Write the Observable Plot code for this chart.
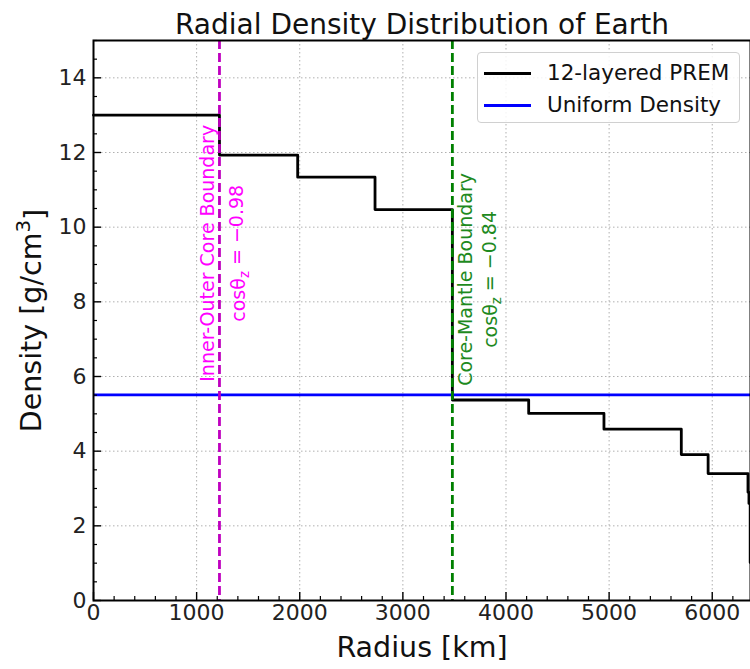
<!DOCTYPE html>
<html><head><meta charset="utf-8">
<script src="https://cdn.jsdelivr.net/npm/d3@7"></script>
<script src="https://cdn.jsdelivr.net/npm/@observablehq/plot@0.6"></script>
<style>
body{margin:0;background:#fff;font-family:"DejaVu Sans",sans-serif;}
#wrap{position:relative;width:750px;height:669px;overflow:hidden;}
.legend{position:absolute;left:477px;top:52px;width:263px;height:71px;box-sizing:border-box;border:1px solid #d0d0d0;border-radius:4px;background:rgba(255,255,255,0.85);}
.legend .row{position:absolute;left:0;height:30px;width:100%;}
.legend .sw{position:absolute;left:6px;top:14px;width:47px;height:3px;}
.legend .lb{position:absolute;left:69px;top:0;line-height:30px;font-size:21.5px;color:#111;white-space:nowrap;}
</style>
</head><body>
<div id="wrap"></div>
<script>
// ---- data ----
const layerInnerRadius = [0, 1221.5, 1980, 2730, 3480, 4220, 4950, 5700, 5960, 6346.6, 6356, 6368];
const layerDensity     = [13.0, 11.93, 11.34, 10.47, 5.37, 5.01, 4.59, 3.91, 3.40, 2.9, 2.6, 1.02];
const earthRadius = 6371;
const uniformDensity = [5.51];
const boundaryRadius = [1221.5, 3480];
const boundaryName = ["Inner-Outer Core Boundary", "Core-Mantle Boundary"];
const boundaryCos = ["cosθz = −0.98", "cosθz = −0.84"];
const boundaryLabelY = [9.3, 8.6];
const xMajor = [0, 1000, 2000, 3000, 4000, 5000, 6000];
const xMinor = d3.range(0, 6400, 200).filter(v => v % 1000 !== 0);
const yMajor = [0, 2, 4, 6, 8, 10, 12, 14];
const yMinor = d3.range(0, 15.01, 0.5).filter(v => v % 2 !== 0);
const seriesNames = ["12-layered PREM", "Uniform Density"];
const seriesColors = ["#000000", "#0000ff"];
const titleText = "Radial Density Distribution of Earth";
const xLabel = "Radius [km]";
const yLabel = "Density [g/cm^3]";

// ---- table for the step line ----
const steps = layerInnerRadius.map((r, i) => ({r, rho: layerDensity[i]}));
steps.push({r: earthRadius, rho: layerDensity[layerDensity.length - 1]});

const W = 750, H = 669, ML = 93, MR = 0, MT = 40, MB = 69;
const FH = H - MT - MB, FW = W - ML - MR;
const magentaLine = "#bf00bf", magentaText = "#ff00ff", greenLine = "#008000", greenText = "#1e8a1e";

const b0 = boundaryRadius.map((r, i) => ({r, name: boundaryName[i], cos: boundaryCos[i], y: boundaryLabelY[i]}));

const chart = Plot.plot({
  width: W, height: H,
  marginLeft: ML, marginRight: MR, marginTop: MT, marginBottom: MB,
  style: {fontFamily: "DejaVu Sans, sans-serif", background: "white", overflow: "visible"},
  x: {domain: [0, earthRadius], axis: null},
  y: {domain: [0, 15], axis: null},
  marks: [
    Plot.gridX(xMajor, {stroke: "#b0b0b0", strokeOpacity: 1, strokeDasharray: "1.5,2.5", strokeWidth: 1}),
    Plot.gridY(yMajor, {stroke: "#b0b0b0", strokeOpacity: 1, strokeDasharray: "1.5,2.5", strokeWidth: 1}),
    Plot.line(steps, {x: "r", y: "rho", curve: "step-after", stroke: seriesColors[0], strokeWidth: 2.8}),
    Plot.ruleY(uniformDensity, {stroke: seriesColors[1], strokeWidth: 2.8}),
    Plot.ruleX([boundaryRadius[0]], {stroke: magentaLine, strokeWidth: 2.8, strokeDasharray: "9,4"}),
    Plot.ruleX([boundaryRadius[1]], {stroke: greenLine, strokeWidth: 2.8, strokeDasharray: "9,4"}),
    // boundary labels
    Plot.text([b0[0]], {x: "r", y: "y", text: "name", rotate: -90, dx: -12, fill: magentaText, fontSize: 19}),
    Plot.text([b0[0]], {x: "r", y: "y", text: "cos", rotate: -90, dx: 19, fill: magentaText, fontSize: 19}),
    Plot.text([b0[1]], {x: "r", y: "y", text: "name", rotate: -90, dx: 14, fill: greenText, fontSize: 19}),
    Plot.text([b0[1]], {x: "r", y: "y", text: "cos", rotate: -90, dx: 39, fill: greenText, fontSize: 19}),
    // inward ticks
    Plot.tickX(xMajor, {x: d => d, stroke: "black", strokeWidth: 1.4, insetTop: FH - 8}),
    Plot.tickX(xMinor, {x: d => d, stroke: "black", strokeWidth: 1.2, insetTop: FH - 4}),
    Plot.tickY(yMajor, {y: d => d, stroke: "black", strokeWidth: 1.4, insetRight: FW - 8}),
    Plot.tickY(yMinor, {y: d => d, stroke: "black", strokeWidth: 1.2, insetRight: FW - 4}),
    Plot.frame({stroke: "black", strokeWidth: 2}),
    // tick labels
    Plot.text(xMajor, {x: d => d, text: d => String(d), frameAnchor: "bottom", dy: 19, fontSize: 22, fill: "#222"}),
    Plot.text(yMajor, {y: d => d, text: d => String(d), frameAnchor: "left", dx: -7, textAnchor: "end", fontSize: 22, fill: "#222"}),
    // titles
    Plot.text([titleText], {frameAnchor: "top", dy: -26, fontSize: 28, fill: "#111"}),
    Plot.text([xLabel], {frameAnchor: "bottom", dy: 56, fontSize: 28.5, fill: "#111"}),
    Plot.text([yLabel], {frameAnchor: "left", dx: -62, rotate: -90, textAnchor: "middle", fontSize: 28.5, fill: "#111"})
  ]
});

// subscript / superscript post-processing
d3.select(chart).selectAll("text").each(function() {
  const t = this.textContent;
  if (t.includes("θz")) {
    const [pre, post] = t.split("θz");
    const s = d3.select(this); s.text(null);
    s.append("tspan").text(pre + "θ");
    s.append("tspan").attr("font-size", "0.7em").attr("dy", "0.3em").text("z");
    s.append("tspan").attr("dy", "-0.3em").text(post);
  } else if (t.includes("^3")) {
    const [pre, post] = t.split("^3");
    const s = d3.select(this); s.text(null);
    s.append("tspan").text(pre);
    s.append("tspan").attr("font-size", "0.7em").attr("dy", "-0.55em").text("3");
    s.append("tspan").attr("dy", "0.55em").text(post);
  }
});

const wrap = document.getElementById("wrap");
wrap.appendChild(chart);
const leg = document.createElement("div");
leg.className = "legend";
seriesNames.forEach((n, i) => {
  const row = document.createElement("div");
  row.className = "row"; row.style.top = (5 + i * 32) + "px";
  const sw = document.createElement("div"); sw.className = "sw"; sw.style.background = seriesColors[i];
  const lb = document.createElement("div"); lb.className = "lb"; lb.textContent = n;
  row.appendChild(sw); row.appendChild(lb); leg.appendChild(row);
});
wrap.appendChild(leg);
</script>
</body></html>
